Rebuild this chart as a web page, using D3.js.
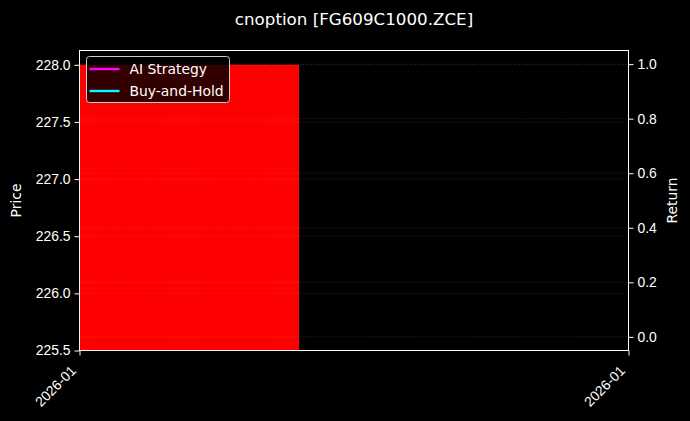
<!DOCTYPE html>
<html lang="en">
<head>
<meta charset="utf-8">
<title>cnoption chart</title>
<script src="https://d3js.org/d3.v7.min.js"></script>
<style>
  body{margin:0;background:#000;}
  svg{display:block;font-family:"DejaVu Sans",sans-serif;}
</style>
</head>
<body>
<div id="chart"></div>
<script>
// values
var barDates = ["2026-01-01"]
var barPrices = [228.0]
var barWidthDays = 1
var xDomain = ["2026-01-01", "2026-01-03T12:00"]
var priceDomain = [225.5, 228.125]
var priceTicks = [225.5, 226.0, 226.5, 227.0, 227.5, 228.0]
var returnDomain = [-0.05, 1.05]
var returnTicks = [0.0, 0.2, 0.4, 0.6, 0.8, 1.0]
var seriesNames = ["AI Strategy", "Buy-and-Hold"]
var seriesColors = ["#ff00ff", "#00ffff"]
var titleText = "cnoption [FG609C1000.ZCE]"

var W = 690, H = 421
var m = {left:79.5, right:61.5, top:50.5, bottom:70.5}
var w = W - m.left - m.right
var h = H - m.top - m.bottom
var fs = "13.9px"

var parse = d3.isoParse
var xScale = d3.scaleTime()
    .domain(xDomain.map(parse))
    .range([0, w])
var yPrice = d3.scaleLinear().domain(priceDomain).range([h, 0])
var yRet = d3.scaleLinear().domain(returnDomain).range([h, 0])

var svg = d3.select("#chart").append("svg")
    .attr("width", W).attr("height", H)
svg.append("rect").attr("width", W).attr("height", H).attr("fill", "#000")

var g = svg.append("g").attr("transform", "translate(" + m.left + "," + m.top + ")")

// bars
g.selectAll("rect.bar")
    .data(barDates.map(function(d, i){ return {date: parse(d), price: barPrices[i]} }))
    .enter().append("rect")
    .attr("class", "bar")
    .attr("x", function(d){ return xScale(d.date) })
    .attr("width", function(d){ return xScale(d3.timeDay.offset(d.date, barWidthDays)) - xScale(d.date) })
    .attr("y", function(d){ return yPrice(d.price) })
    .attr("height", function(d){ return yPrice(priceDomain[0]) - yPrice(d.price) })
    .attr("fill", "#ff0000")

// grids (price then return)
function grid(scale, ticks){
    g.append("g").selectAll("line")
        .data(ticks).enter().append("line")
        .attr("x1", 0).attr("x2", w)
        .attr("y1", function(d){ return scale(d) })
        .attr("y2", function(d){ return scale(d) })
        .attr("stroke", "#b0b0b0")
        .attr("stroke-opacity", 0.35)
        .attr("stroke-width", 0.6)
        .attr("stroke-dasharray", "1,1.6")
}
grid(yPrice, priceTicks.slice(1))
grid(yRet, returnTicks)

// axes
var fmt = d3.format(".1f")
var leftAxis = g.append("g")
    .call(d3.axisLeft(yPrice).tickValues(priceTicks).tickFormat(fmt).tickSize(5).tickPadding(4))
var rightAxis = g.append("g").attr("transform", "translate(" + w + ",0)")
    .call(d3.axisRight(yRet).tickValues(returnTicks).tickFormat(fmt).tickSize(5).tickPadding(4))
var bottomAxis = g.append("g").attr("transform", "translate(0," + h + ")")
    .call(d3.axisBottom(xScale).tickValues(xScale.domain()).tickFormat(d3.timeFormat("%Y-%m")).tickSize(5))

;[leftAxis, rightAxis, bottomAxis].forEach(function(a){
    a.select(".domain").remove()
    a.selectAll("line").attr("stroke", "#fff").attr("stroke-width", 1)
    a.selectAll("text").attr("fill", "#fff").style("font-size", fs)
})
bottomAxis.selectAll("text")
    .attr("text-anchor", "end")
    .attr("y", 0)
    .attr("dy", 0)
    .attr("transform", "translate(-3,21) rotate(-45)")

// frame
g.append("rect").attr("width", w).attr("height", h)
    .attr("fill", "none").attr("stroke", "#fff").attr("stroke-width", 1)

// labels
svg.append("text")
    .attr("x", m.left + w / 2).attr("y", 25)
    .attr("text-anchor", "middle").attr("fill", "#fff")
    .style("font-size", "16.7px").text(titleText)
svg.append("text")
    .attr("transform", "translate(21," + (m.top + h / 2) + ") rotate(-90)")
    .attr("text-anchor", "middle").attr("fill", "#fff")
    .style("font-size", fs).text("Price")
svg.append("text")
    .attr("transform", "translate(677," + (m.top + h / 2) + ") rotate(-90)")
    .attr("text-anchor", "middle").attr("fill", "#fff")
    .style("font-size", fs).text("Return")

// legend
var lg = g.append("g").attr("transform", "translate(7,6)")
lg.append("rect").attr("width", 143).attr("height", 46).attr("rx", 3)
    .attr("fill", "#000").attr("fill-opacity", 0.8)
    .attr("stroke", "#cccccc").attr("stroke-width", 1)
var items = lg.selectAll("g.item").data(seriesNames).enter().append("g")
    .attr("transform", function(d, i){ return "translate(0," + (12.5 + i * 22) + ")" })
items.append("line")
    .attr("x1", 3).attr("x2", 33).attr("y1", 0).attr("y2", 0)
    .attr("stroke", function(d, i){ return seriesColors[i] })
    .attr("stroke-width", 2.4)
items.append("text")
    .attr("x", 43).attr("dy", "0.35em")
    .attr("fill", "#fff").style("font-size", fs)
    .text(function(d){ return d })
</script>
</body>
</html>
